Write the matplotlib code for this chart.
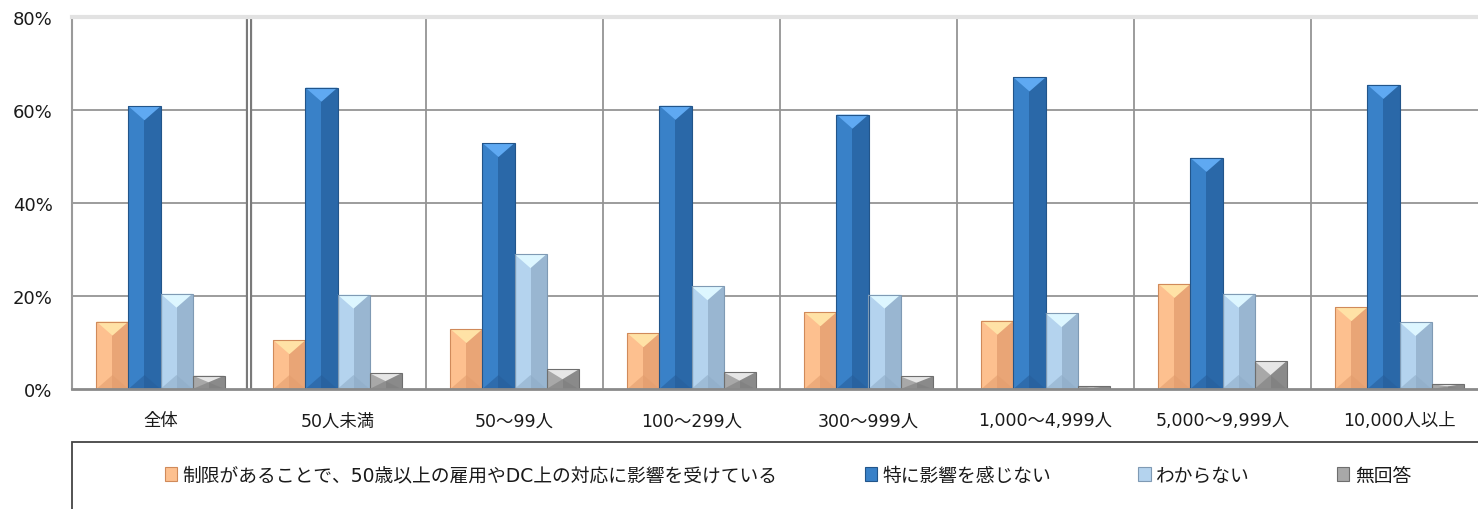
import matplotlib
matplotlib.use('Agg')
import matplotlib.pyplot as plt
from matplotlib.patches import Polygon, Patch, Rectangle

plt.rcParams['font.family'] = ['DejaVu Sans', 'Noto Sans CJK JP']

# Data (%)
categories = ['全体', '50人未満', '50～99人', '100～299人', '300～999人',
              '1,000～4,999人', '5,000～9,999人', '10,000人以上']
series_names = ['制限があることで、50歳以上の雇用やDC上の対応に影響を受けている',
                '特に影響を感じない', 'わからない', '無回答']
affected = [14.5, 10.5, 12.9, 12.0, 16.5, 14.7, 22.6, 17.6]
no_effect = [60.8, 64.8, 52.9, 60.9, 59.0, 67.0, 49.7, 65.4]
unknown = [20.5, 20.3, 29.0, 22.1, 20.3, 16.3, 20.5, 14.4]
no_answer = [2.9, 3.4, 4.2, 3.6, 2.7, 0.6, 6.0, 1.1]
y_ticks = [0, 20, 40, 60, 80]

# bevel shades: (left half, right half, top chevron, bottom chevron, edge)
shades = [
    ('#FDC08F', '#E9A576', '#FFE2A6', '#E39E6E', '#D08A5A'),
    ('#3981C8', '#2A68A8', '#5FA9F2', '#275F9C', '#22558A'),
    ('#B4D3EE', '#99B6D1', '#DDF6FF', '#90ADC8', '#7F9AB4'),
    ('#A8A8A8', '#8A8A8A', '#E6E6E6', '#7E7E7E', '#6E6E6E'),
]

W, H = 1478, 510
fig = plt.figure(figsize=(W / 100, H / 100), dpi=100)
ax_l, ax_r, ax_t, ax_b = 72, 1478, 18, 390
ax = fig.add_axes([ax_l / W, 1 - ax_b / H, (ax_r - ax_l) / W, (ax_b - ax_t) / H])

cat_px = 177
n = len(categories)
ax.set_xlim(-0.5, -0.5 + (ax_r - ax_l) / cat_px)
ax.set_ylim(0, 80)

bw = 0.181
x = list(range(n))
px_y = 80 / (ax_b - ax_t)

for i, vals in enumerate([affected, no_effect, unknown, no_answer]):
    left, right, top, bottom, edge = shades[i]
    off = (i - 1.5) * bw
    bars = ax.bar([xi + off for xi in x], vals, width=bw, color=right,
                  edgecolor='none', zorder=3)
    for b in bars:
        x0, w, h = b.get_x(), b.get_width(), b.get_height()
        xm = x0 + w / 2
        t = min(14 * px_y, h / 2)
        ax.add_patch(Polygon([(x0, 0), (xm, 0), (xm, h), (x0, h)],
                             closed=True, color=left, lw=0, zorder=3))
        ax.add_patch(Polygon([(x0, h), (x0 + w, h), (xm, h - t)],
                             closed=True, color=top, lw=0, zorder=4))
        ax.add_patch(Polygon([(x0, 0), (x0 + w, 0), (xm, t)],
                             closed=True, color=bottom, lw=0, alpha=0.6, zorder=4))
        ax.add_patch(Rectangle((x0, 0), w, h, fill=False, edgecolor=edge,
                               lw=0.8, zorder=5))

# grid lines
for yt in y_ticks[1:-1]:
    ax.axhline(yt, color='#949494', lw=1.3, zorder=1)
for k in range(1, n):
    ax.axvline(k - 0.5, color='#949494', lw=1.3, zorder=1)
# double separator after 全体
ax.axvline(0.5, color='#7A7A7A', lw=4.5, zorder=2)
ax.axvline(0.5, color='white', lw=1.4, zorder=2)

ax.spines['right'].set_visible(False)
ax.spines['top'].set_color('#E2E2E2')
ax.spines['top'].set_linewidth(3)
ax.spines['left'].set_color('#9A9A9A')
ax.spines['left'].set_linewidth(1.5)
ax.spines['bottom'].set_color('#8A8A8A')
ax.spines['bottom'].set_linewidth(2)
ax.spines['bottom'].set_zorder(6)

ax.set_yticks(y_ticks)
ax.set_yticklabels([f'{v}%' for v in y_ticks])
ax.set_xticks(x)
ax.set_xticklabels(categories)
ax.tick_params(axis='y', length=0, pad=14, labelsize=13, labelcolor='#1a1a1a')
ax.tick_params(axis='x', length=0, pad=16, labelsize=12.5, labelcolor='#1a1a1a')

# legend box (open to the right and bottom)
fig.add_artist(Rectangle((ax_l / W, -0.2), 1.0, 0.2 + 1 - 443 / H,
                         transform=fig.transFigure, fill=False,
                         edgecolor='#444444', lw=1.3))
handles = [Patch(facecolor=s[0], edgecolor=s[4], lw=0.8) for s in shades]
fig.legend(handles, series_names, loc='center', ncol=4, frameon=False,
           bbox_to_anchor=(788 / W, 1 - 476 / H), fontsize=13.5,
           handlelength=0.65, handleheight=0.75, handletextpad=0.3,
           columnspacing=4.65, labelcolor='#1a1a1a')

fig.savefig('out.png', dpi=100)
